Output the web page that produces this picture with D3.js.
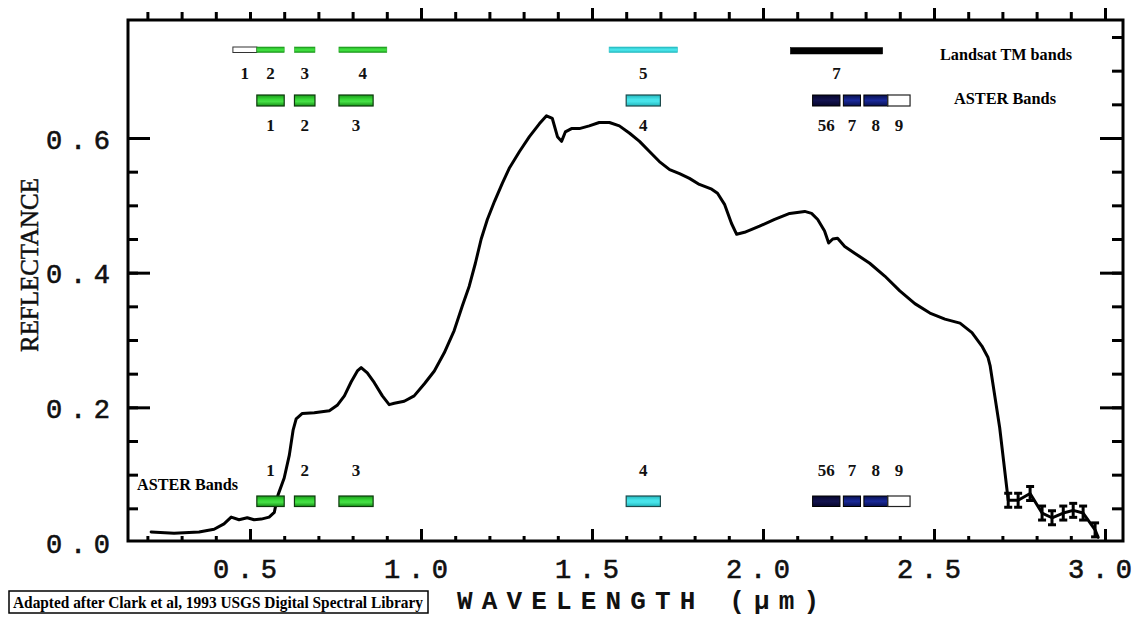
<!DOCTYPE html>
<html><head><meta charset="utf-8">
<script src="https://cdn.jsdelivr.net/npm/d3@7"></script>
<style>
html,body{margin:0;padding:0;background:#fff;}
svg{display:block;}
</style></head><body>
<svg id="chart" width="1143" height="618"></svg>
<script>
// Spectral reflectance sample (wavelength in µm, reflectance 0-1)
const wavelength = [0.211,0.278,0.351,0.395,0.424,0.445,0.468,0.492,0.512,0.533,0.556,0.571,0.582,0.600,0.615,0.626,0.635,0.653,0.688,0.732,0.755,0.776,0.796,0.814,0.825,0.843,0.863,0.887,0.907,0.922,0.951,0.980,1.010,1.039,1.068,1.097,1.121,1.141,1.159,1.176,1.194,1.215,1.238,1.258,1.288,1.317,1.346,1.367,1.384,1.399,1.411,1.422,1.440,1.463,1.492,1.521,1.551,1.580,1.610,1.639,1.668,1.697,1.727,1.756,1.785,1.814,1.850,1.867,1.888,1.908,1.923,1.946,1.990,2.034,2.078,2.122,2.142,2.160,2.180,2.192,2.204,2.218,2.239,2.268,2.312,2.356,2.400,2.444,2.488,2.532,2.576,2.611,2.640,2.658,2.664,2.692,2.717,2.746,2.781,2.816,2.845,2.878,2.907,2.936,2.971,2.980];
const reflectance = [0.015,0.013,0.015,0.019,0.027,0.037,0.033,0.036,0.033,0.034,0.037,0.044,0.070,0.095,0.129,0.166,0.183,0.191,0.192,0.195,0.203,0.217,0.238,0.254,0.259,0.251,0.237,0.217,0.204,0.206,0.209,0.217,0.235,0.254,0.281,0.314,0.351,0.380,0.414,0.450,0.479,0.506,0.533,0.555,0.580,0.602,0.621,0.633,0.629,0.602,0.595,0.609,0.614,0.614,0.618,0.623,0.623,0.618,0.607,0.595,0.580,0.565,0.553,0.547,0.540,0.531,0.524,0.518,0.501,0.473,0.457,0.460,0.469,0.479,0.488,0.491,0.488,0.479,0.462,0.444,0.450,0.451,0.439,0.429,0.414,0.395,0.373,0.354,0.340,0.331,0.325,0.311,0.291,0.274,0.262,0.170,0.062,0.062,0.072,0.043,0.036,0.043,0.047,0.043,0.018,0.007];
// samples beyond this wavelength carry error bars
const errorBarStart = 2.70;

// Landsat TM bands (µm)
const tmBandNames = ["1","2","3","4","5","7"];
const tmBandLo = [0.45,0.52,0.63,0.76,1.55,2.08];
const tmBandHi = [0.52,0.60,0.69,0.90,1.75,2.35];
const tmBandRegion = ["blue","green","red","nir","swir1","swir2"];

// ASTER bands (µm); 5 and 6 share one box
const asterBandNames = ["1","2","3","4","56","7","8","9"];
const asterBandLo = [0.52,0.63,0.76,1.60,2.145,2.235,2.295,2.365];
const asterBandHi = [0.60,0.69,0.86,1.70,2.225,2.285,2.365,2.43];
const asterBandRegion = ["vis","vis","vis","swir1","swirA","swirB","swirB","swirC"];

const xTickLabels = ["0.5","1.0","1.5","2.0","2.5","3.0"];
const yTickLabels = ["0.0","0.2","0.4","0.6"];

const svg = d3.select("#chart");
const x = d3.scaleLinear().domain([0.5, 3.0]).range([250, 1105]);
const y = d3.scaleLinear().domain([0, 0.6]).range([542, 138]);

const frame = {left: 128, right: 1123, top: 20, bottom: 541};

// gradients for the band boxes
const defs = svg.append("defs");
function grad(id, stops) {
  const g = defs.append("linearGradient").attr("id", id)
    .attr("x1", 0).attr("y1", 0).attr("x2", 0).attr("y2", 1);
  stops.forEach(([o, c]) => g.append("stop").attr("offset", o).attr("stop-color", c));
}
grad("gGreen", [[0, "#139013"], [0.35, "#3edc3e"], [0.65, "#3edc3e"], [1, "#139013"]]);
grad("gGreenA", [[0, "#1a9a1a"], [0.4, "#38d838"], [0.6, "#46e046"], [1, "#169016"]]);
grad("gCyan", [[0, "#22b6bc"], [0.4, "#48e4ea"], [0.6, "#48e4ea"], [1, "#22b6bc"]]);
grad("gNavyA", [[0, "#05052a"], [0.5, "#141450"], [1, "#05052a"]]);
grad("gNavyB", [[0, "#08104e"], [0.5, "#1a2a9a"], [1, "#08104e"]]);

const tmStyle = {
  blue:  {fill: "#ffffff", stroke: "#333", sw: 1},
  green: {fill: "url(#gGreen)", stroke: "#28a028", sw: 0.6},
  red:   {fill: "url(#gGreen)", stroke: "#28a028", sw: 0.6},
  nir:   {fill: "url(#gGreen)", stroke: "#28a028", sw: 0.6},
  swir1: {fill: "url(#gCyan)", stroke: "#30c0c6", sw: 0.6},
  swir2: {fill: "#000000", stroke: "#000", sw: 0.5}
};
const asterStyle = {
  vis:   {fill: "url(#gGreenA)", stroke: "#0d3a0d", sw: 1.2},
  swir1: {fill: "url(#gCyan)", stroke: "#1d4a4c", sw: 1.2},
  swirA: {fill: "url(#gNavyA)", stroke: "#000", sw: 1},
  swirB: {fill: "url(#gNavyB)", stroke: "#000", sw: 1},
  swirC: {fill: "#ffffff", stroke: "#222", sw: 1.2}
};

const serifBold = "'Liberation Serif','Times New Roman',serif";
const mono = "'Liberation Mono','Courier New',monospace";

// Band boxes and their numbers
function bandRow(names, lo, hi, region, styles, yTop, h, labelY) {
  const g = svg.append("g");
  const rows = names.map((n, i) => ({n, lo: lo[i], hi: hi[i], r: region[i]}));
  g.selectAll("rect").data(rows).join("rect")
    .attr("x", d => x(d.lo)).attr("width", d => x(d.hi) - x(d.lo))
    .attr("y", yTop).attr("height", h)
    .attr("fill", d => styles[d.r].fill)
    .attr("stroke", d => styles[d.r].stroke)
    .attr("stroke-width", d => styles[d.r].sw);
  g.selectAll("text").data(rows).join("text")
    .attr("x", d => x((d.lo + d.hi) / 2)).attr("y", labelY)
    .attr("text-anchor", "middle")
    .attr("font-family", serifBold).attr("font-weight", "bold")
    .attr("font-size", 17).attr("fill", "#111")
    .text(d => d.n);
}

// Landsat row: band 7 drawn a touch thicker
bandRow(tmBandNames.slice(0, 5), tmBandLo.slice(0, 5), tmBandHi.slice(0, 5), tmBandRegion.slice(0, 5), tmStyle, 47, 5.5, 79);
bandRow(tmBandNames.slice(5), tmBandLo.slice(5), tmBandHi.slice(5), tmBandRegion.slice(5), tmStyle, 47.5, 6.5, 79);
bandRow(asterBandNames, asterBandLo, asterBandHi, asterBandRegion, asterStyle, 95, 11, 131);

svg.append("text").attr("x", 940).attr("y", 60)
  .attr("font-family", serifBold).attr("font-weight", "bold").attr("font-size", 16)
  .attr("textLength", 132).attr("lengthAdjust", "spacingAndGlyphs")
  .text("Landsat TM bands");
svg.append("text").attr("x", 954).attr("y", 104)
  .attr("font-family", serifBold).attr("font-weight", "bold").attr("font-size", 16)
  .attr("textLength", 102).attr("lengthAdjust", "spacingAndGlyphs")
  .text("ASTER Bands");

// Reflectance curve
const pts = wavelength.map((w, i) => ({w, r: reflectance[i]}));
const line = d3.line().x(d => x(d.w)).y(d => y(d.r));
svg.append("path").datum(pts).attr("d", line)
  .attr("fill", "none").attr("stroke", "#000").attr("stroke-width", 3)
  .attr("stroke-linejoin", "round").attr("stroke-linecap", "round");

// error bars on the long-wave tail
const eb = svg.append("g").attr("stroke", "#000").attr("stroke-width", 3);
pts.filter(d => d.w > errorBarStart && d.w < 2.975).forEach(d => {
  const cx = x(d.w), cy = y(d.r);
  eb.append("line").attr("x1", cx).attr("x2", cx).attr("y1", cy - 7).attr("y2", cy + 7);
  eb.append("line").attr("x1", cx - 4).attr("x2", cx + 4).attr("y1", cy - 7).attr("y2", cy - 7);
  eb.append("line").attr("x1", cx - 4).attr("x2", cx + 4).attr("y1", cy + 7).attr("y2", cy + 7);
});

// Lower ASTER row drawn over the curve
bandRow(asterBandNames, asterBandLo, asterBandHi, asterBandRegion, asterStyle, 496, 10.5, 476);
svg.append("text").attr("x", 137).attr("y", 490)
  .attr("font-family", serifBold).attr("font-weight", "bold").attr("font-size", 16)
  .attr("textLength", 101).attr("lengthAdjust", "spacingAndGlyphs")
  .text("ASTER Bands");

// Frame
svg.append("rect").attr("x", frame.left).attr("y", frame.top)
  .attr("width", frame.right - frame.left).attr("height", frame.bottom - frame.top)
  .attr("fill", "none").attr("stroke", "#000").attr("stroke-width", 3);

// Ticks
const xMinor = d3.range(2, 31).map(v => v / 10);
const xMajorBottom = [0.5, 1.0, 1.5, 2.0, 2.5, 3.0];
const xMajorTop = [1.0, 1.5, 2.0, 2.5, 3.0];
const yMinor = d3.range(1, 16).map(v => v / 20);
const yMajor = [0.2, 0.4, 0.6];

function ticks(axis, tx, ty) {
  const g = svg.append("g").attr("transform", `translate(${tx},${ty})`).call(axis);
  g.select(".domain").remove();
  g.selectAll("line").attr("stroke", "#000").attr("stroke-width", 3);
  g.selectAll("text").remove();
}
ticks(d3.axisTop(x).tickValues(xMinor).tickSize(5), 0, frame.bottom);
ticks(d3.axisTop(x).tickValues(xMajorBottom).tickSize(12), 0, frame.bottom);
ticks(d3.axisTop(x).tickValues(xMinor).tickSize(8), 0, frame.top);
ticks(d3.axisTop(x).tickValues(xMajorTop).tickSize(12), 0, frame.top);
ticks(d3.axisRight(y).tickValues(yMinor.filter(v => v <= 0.6)).tickSize(10), frame.left, 0);
ticks(d3.axisRight(y).tickValues(yMajor).tickSize(22), frame.left, 0);
ticks(d3.axisLeft(y).tickValues(yMinor).tickSize(11), frame.right, 0);
ticks(d3.axisLeft(y).tickValues(yMajor).tickSize(23), frame.right, 0);

// Tick labels
svg.append("g").selectAll("text").data(xTickLabels).join("text")
  .attr("x", d => x(+d) - 37).attr("y", 578)
  .attr("font-family", mono).attr("font-size", 27).attr("stroke", "#111").attr("stroke-width", 0.6)
  .attr("textLength", 64).attr("lengthAdjust", "spacing").attr("fill", "#111")
  .text(d => d);
svg.append("g").selectAll("text").data(yTickLabels).join("text")
  .attr("x", 46).attr("y", d => y(+d) + 10.5)
  .attr("font-family", mono).attr("font-size", 27).attr("stroke", "#111").attr("stroke-width", 0.6)
  .attr("textLength", 64).attr("lengthAdjust", "spacing").attr("fill", "#111")
  .text(d => d);

// Axis titles
svg.append("text").attr("x", 457).attr("y", 609)
  .attr("font-family", mono).attr("font-weight", "bold").attr("font-size", 26)
  .attr("textLength", 362).attr("lengthAdjust", "spacing").attr("fill", "#111")
  .text("WAVELENGTH (µm)");
svg.append("text").attr("transform", "translate(38,265) rotate(-90)")
  .attr("text-anchor", "middle")
  .attr("font-family", serifBold).attr("font-size", 26).attr("stroke", "#111").attr("stroke-width", 0.5)
  .attr("textLength", 174).attr("lengthAdjust", "spacingAndGlyphs").attr("fill", "#111")
  .text("REFLECTANCE");

// Source note
svg.append("rect").attr("x", 9).attr("y", 591).attr("width", 419).attr("height", 22)
  .attr("fill", "none").attr("stroke", "#000").attr("stroke-width", 1.5);
svg.append("text").attr("x", 13).attr("y", 608)
  .attr("font-family", serifBold).attr("font-weight", "bold").attr("font-size", 16)
  .attr("textLength", 410).attr("lengthAdjust", "spacingAndGlyphs")
  .text("Adapted after Clark et al, 1993 USGS Digital Spectral Library");
</script>
</body></html>
